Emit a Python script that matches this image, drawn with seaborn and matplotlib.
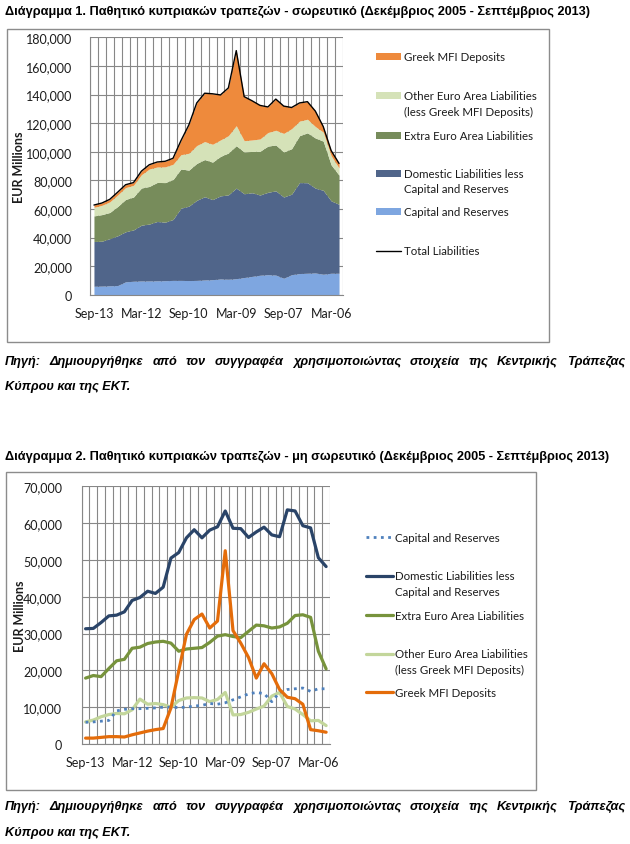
import numpy as np
import matplotlib
matplotlib.use("Agg")
import matplotlib.pyplot as plt
import seaborn as sns
from matplotlib.patches import Rectangle
from matplotlib.lines import Line2D
from matplotlib.ticker import FuncFormatter

sns.set_theme(style="white")
plt.rcParams['font.family'] = ['Lato', 'DejaVu Sans']
GREEK = ['Liberation Sans Narrow', 'Liberation Sans', 'DejaVu Sans']

# quarters, newest first (as on the original x axis)
quarters = ["Sep-13", "Jun-13", "Mar-13", "Dec-12", "Sep-12", "Jun-12", "Mar-12", "Dec-11",
            "Sep-11", "Jun-11", "Mar-11", "Dec-10", "Sep-10", "Jun-10", "Mar-10", "Dec-09",
            "Sep-09", "Jun-09", "Mar-09", "Dec-08", "Sep-08", "Jun-08", "Mar-08", "Dec-07",
            "Sep-07", "Jun-07", "Mar-07", "Dec-06", "Sep-06", "Jun-06", "Mar-06", "Dec-05"]
tick_labels = ["Sep-13", "Mar-12", "Sep-10", "Mar-09", "Sep-07", "Mar-06"]

# EUR millions (read in thousands)
capital = [5.9, 6.0, 6.2, 6.4, 9.0, 9.4, 9.6, 9.6, 9.7, 9.8, 10.0, 10.0, 9.9, 10.0, 10.3, 10.5,
           11.0, 10.8, 11.2, 12.0, 12.8, 13.6, 14.0, 13.7, 11.5, 14.0, 14.8, 15.0, 15.2, 14.3, 15.0, 15.0]
domestic = [31.3, 31.4, 33.0, 34.8, 35.0, 35.9, 39.0, 39.8, 41.5, 40.9, 42.6, 50.5, 52.0, 56.0, 58.2, 56.0,
            58.1, 59.0, 63.3, 58.6, 58.5, 56.1, 57.6, 58.9, 56.8, 56.3, 63.6, 63.3, 59.3, 58.7, 50.6, 48.2]
extra_ea = [17.9, 18.6, 18.3, 20.5, 22.6, 23.0, 26.0, 26.3, 27.3, 27.7, 27.9, 27.4, 25.2, 25.8, 26.0, 26.2,
            27.6, 29.3, 29.7, 29.2, 28.9, 30.6, 32.3, 32.1, 31.5, 31.8, 32.8, 34.9, 35.1, 34.4, 25.2, 20.4]
other_ea = [6.0, 6.5, 7.4, 8.0, 8.3, 8.2, 9.3, 12.2, 10.8, 11.0, 10.7, 10.0, 11.8, 12.5, 12.6, 12.5,
            11.5, 12.1, 14.0, 7.9, 8.0, 8.6, 9.5, 10.3, 13.0, 14.0, 10.2, 9.5, 8.0, 6.3, 6.4, 5.0]
greek_mfi = [1.6, 1.6, 1.8, 2.0, 2.0, 1.9, 2.5, 3.0, 3.5, 3.9, 4.2, 9.8, 19.8, 29.8, 33.8, 35.3,
             31.5, 33.4, 52.5, 30.8, 27.4, 23.5, 17.9, 21.8, 19.1, 14.8, 12.7, 12.3, 10.8, 3.9, 3.6, 3.2]

x = np.arange(len(quarters))
cap = np.array(capital) * 1000
dom = np.array(domestic) * 1000
ext = np.array(extra_ea) * 1000
oth = np.array(other_ea) * 1000
gre = np.array(greek_mfi) * 1000
total = cap + dom + ext + oth + gre

W, H = 630, 845
def fx(px): return px / W
def fy(py): return 1 - py / H

fig = plt.figure(figsize=(W / 100, H / 100), dpi=100)
fig.patch.set_facecolor('white')
TXT = '#1c1c1c'
GRID = '#878787'

def style_axes(ax, ymax, ystep, ylab_x, ypad, xpad):
    ax.set_xlim(-0.5, len(quarters) - 0.5)
    ax.set_ylim(0, ymax)
    ax.set_yticks(np.arange(0, ymax + 1, ystep))
    ax.yaxis.set_major_formatter(FuncFormatter(lambda v, p: f"{int(v):,}"))
    ax.set_xticks([quarters.index(t) for t in tick_labels])
    ax.set_xticklabels(tick_labels)
    ax.set_xticks(np.arange(-0.5, len(quarters)), minor=True)
    ax.set_axisbelow(True)
    ax.yaxis.grid(True, which='major', color=GRID, lw=0.8)
    ax.xaxis.grid(True, which='minor', color=GRID, lw=0.8)
    ax.xaxis.grid(False, which='major')
    ax.tick_params(axis='x', which='major', length=0, pad=xpad, labelsize=9, labelcolor=TXT)
    ax.tick_params(axis='x', which='minor', length=4, width=0.8, color=GRID, direction='out')
    ax.tick_params(axis='y', length=4, width=0.8, color=GRID, labelsize=9, labelcolor=TXT, pad=ypad)
    for s in ['top', 'right']:
        ax.spines[s].set_visible(False)
    for s in ['left', 'bottom']:
        ax.spines[s].set_color(GRID)
        ax.spines[s].set_linewidth(0.8)
    ax.set_ylabel('EUR Millions', fontsize=9, fontweight='bold', color=TXT)
    ax.yaxis.set_label_coords(ylab_x, 0.5)
    ax.set_facecolor('white')

# ---------- chart 1: stacked ----------
fig.add_artist(Rectangle((fx(7), fy(343)), (549 - 7) / W, (343 - 30) / H,
                         transform=fig.transFigure, fill=False, ec='#8c8c8c', lw=1))
ax1 = fig.add_axes([fx(90), fy(295.7), (343 - 90) / W, (295.7 - 38.3) / H])
c1 = {'cap': '#7EA6E0', 'dom': '#50658A', 'ext': '#778C5B', 'oth': '#D5E2B8', 'gre': '#EE8A3C'}
ax1.stackplot(x, cap, dom, ext, oth, gre,
              colors=[c1['cap'], c1['dom'], c1['ext'], c1['oth'], c1['gre']], lw=0)
sns.lineplot(x=x, y=total, ax=ax1, color='black', lw=1.0)
style_axes(ax1, 180000, 20000, (25 - 90) / (343 - 90), 9, 9)

leg1 = [(["Greek MFI Deposits"], c1['gre'], 57.7),
        (["Other Euro Area Liabilities", "(less Greek MFI Deposits)"], c1['oth'], 96.7),
        (["Extra Euro Area Liabilities"], c1['ext'], 136),
        (["Domestic Liabilities less", "Capital and Reserves"], c1['dom'], 174),
        (["Capital and Reserves"], c1['cap'], 212.7)]
for lines, col, yy in leg1:
    fig.add_artist(Rectangle((fx(376), fy(yy + 3.5)), 25 / W, 7 / H,
                             transform=fig.transFigure, color=col, lw=0))
    for k, ln in enumerate(lines):
        fig.text(fx(404), fy(yy + 15.5 * k), ln, fontsize=8.3, color=TXT, va='center')
fig.add_artist(Line2D([fx(376), fx(401)], [fy(251.7), fy(251.7)],
                      transform=fig.transFigure, color='black', lw=1))
fig.text(fx(404), fy(251.7), "Total Liabilities", fontsize=8.3, color=TXT, va='center')

# ---------- chart 2: lines ----------
fig.add_artist(Rectangle((fx(6), fy(791)), (536 - 6) / W, (791 - 473) / H,
                         transform=fig.transFigure, fill=False, ec='#8c8c8c', lw=1))
ax2 = fig.add_axes([fx(81.7), fy(745), (330 - 81.7) / W, (745 - 487.3) / H])
c2 = {'cap': '#4F81BD', 'dom': '#2A4468', 'ext': '#77933C', 'oth': '#C3D69B', 'gre': '#E46C0A'}
sns.lineplot(x=x, y=oth, ax=ax2, color=c2['oth'], lw=2.3)
sns.lineplot(x=x, y=ext, ax=ax2, color=c2['ext'], lw=2.3)
sns.lineplot(x=x, y=dom, ax=ax2, color=c2['dom'], lw=2.3)
sns.lineplot(x=x, y=cap, ax=ax2, color=c2['cap'], lw=2.0, linestyle=(0, (1, 1.6)))
sns.lineplot(x=x, y=gre, ax=ax2, color=c2['gre'], lw=2.3)
style_axes(ax2, 70000, 10000, (26 - 81.7) / (330 - 81.7), 10, 9)

leg2 = [(["Capital and Reserves"], c2['cap'], 538.3, (0, (1, 1.6)), 2.0),
        (["Domestic Liabilities less", "Capital and Reserves"], c2['dom'], 576.7, '-', 2.3),
        (["Extra Euro Area Liabilities"], c2['ext'], 616, '-', 2.3),
        (["Other Euro Area Liabilities", "(less Greek MFI Deposits)"], c2['oth'], 655, '-', 2.3),
        (["Greek MFI Deposits"], c2['gre'], 693.3, '-', 2.3)]
for lines, col, yy, ls, lw in leg2:
    fig.add_artist(Line2D([fx(366), fx(393)], [fy(yy), fy(yy)], transform=fig.transFigure,
                          color=col, lw=lw, ls=ls))
    for k, ln in enumerate(lines):
        fig.text(fx(395), fy(yy + 15.5 * k), ln, fontsize=8.3, color=TXT, va='center')

# ---------- titles and sources ----------
title1 = "Διάγραμμα 1. Παθητικό κυπριακών τραπεζών - σωρευτικό (Δεκέμβριος 2005 - Σεπτέμβριος 2013)"
title2 = "Διάγραμμα 2. Παθητικό κυπριακών τραπεζών - μη σωρευτικό (Δεκέμβριος 2005 - Σεπτέμβριος 2013)"
src_line1 = "Πηγή: Δημιουργήθηκε από τον συγγραφέα χρησιμοποιώντας στοιχεία της Κεντρικής Τράπεζας"
src_line2 = "Κύπρου και της ΕΚΤ."

fig.canvas.draw()
rend = fig.canvas.get_renderer()

def fit(t, target):
    w = t.get_window_extent(rend).width
    t.set_fontsize(t.get_fontsize() * target / w)

t1 = fig.text(fx(5), fy(12), title1, fontsize=9, fontweight='bold', family=GREEK, va='center', color='black')
t2 = fig.text(fx(5), fy(457), title2, fontsize=9, fontweight='bold', family=GREEK, va='center', color='black')
fit(t1, 585)
fit(t2, 605)

def source(y1, y2):
    last = fig.text(fx(5), fy(y2), src_line2, fontsize=10, fontweight='bold', style='italic',
                    family=GREEK, va='center', color='black')
    fit(last, 126)
    size = last.get_fontsize()
    words = [fig.text(0, fy(y1), w, fontsize=size, fontweight='bold', style='italic',
                      family=GREEK, va='center', color='black') for w in src_line1.split()]
    widths = [w.get_window_extent(rend).width for w in words]
    gap = (625 - 5 - sum(widths)) / (len(words) - 1)
    pos = 5
    for w, wd in zip(words, widths):
        w.set_x(fx(pos))
        pos += wd + gap

source(362, 387)
source(807, 833)

fig.savefig("out.png", dpi=100, facecolor='white')
